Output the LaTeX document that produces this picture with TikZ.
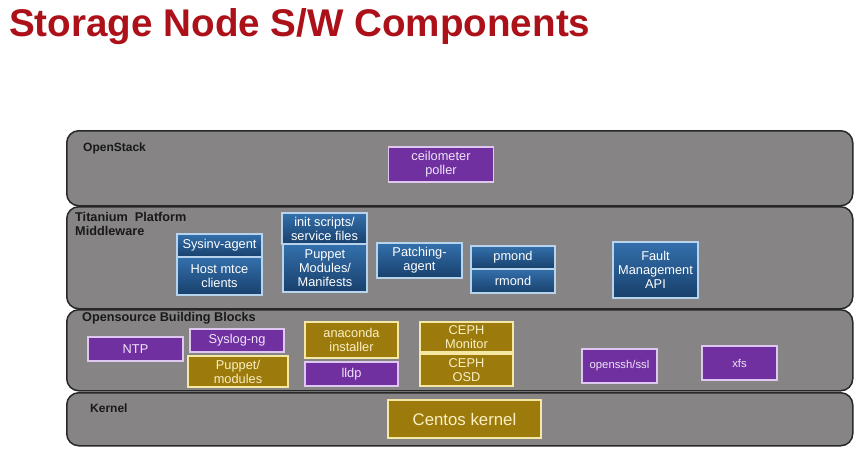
\documentclass[tikz,border=0pt]{standalone}
\usepackage{fontspec}
\setmainfont{Liberation Sans}
\begin{document}
\begin{tikzpicture}[x=1pt,y=-1pt,
  layer/.style={draw={rgb,255:red,40;green,40;blue,40}, line width=1.5pt, rounded corners=12pt,
    fill={rgb,255:red,134;green,132;blue,132}, anchor=north west, inner sep=0pt},
  lbl/.style={anchor=west, font=\fontsize{12.7}{14}\selectfont\bfseries, text={rgb,255:red,25;green,25;blue,25}, inner sep=0pt, align=left},
  box/.style={line width=1.3pt, align=center, inner sep=0pt, font=\fontsize{12.8}{14}\selectfont},
  pbox/.style={box, fill={rgb,255:red,112;green,48;blue,160}, draw={rgb,255:red,222;green,200;blue,240}, text={rgb,255:red,240;green,230;blue,250}},
  gbox/.style={box, fill={rgb,255:red,156;green,122;blue,12}, draw={rgb,255:red,245;green,232;blue,165}, text={rgb,255:red,250;green,240;blue,195}},
  bbox/.style={box, top color={rgb,255:red,52;green,112;blue,172}, bottom color={rgb,255:red,24;green,64;blue,108}, draw={rgb,255:red,184;green,212;blue,236}, text=white},
]
\useasboundingbox (0,0) rectangle (865,458);
\fill[white] (0,0) rectangle (865,458);

\node[anchor=west, inner sep=0pt, font=\fontsize{38.6}{42}\selectfont\bfseries, text={rgb,255:red,172;green,16;blue,24}] (title) at (9,27) {Storage Node S/W Components};

% layers
\node[layer, minimum width=786, minimum height=75] (l1) at (66,130) {};
\node[layer, minimum width=786, minimum height=102] (l2) at (66,206) {};
\node[layer, minimum width=786, minimum height=81] (l3) at (66,309) {};
\node[layer, minimum width=786, minimum height=53] (l4) at (66,392) {};

\node[lbl, font=\fontsize{12}{14}\selectfont\bfseries] (t1) at (83,148) {OpenStack};
\node[lbl] (t2) at (75,224) {Titanium\ \ Platform\\Middleware};
\node[lbl] (t3) at (82,318) {Opensource Building Blocks};
\node[lbl, font=\fontsize{12}{14}\selectfont\bfseries] (t4) at (90,408) {Kernel};

% OpenStack
\node[pbox, minimum width=105, minimum height=35] (ceil) at (441,164.5) {ceilometer\\poller};

% Titanium
\node[bbox, minimum width=85, minimum height=23] (sysinv) at (219.5,245.5) {Sysinv-agent};
\node[bbox, minimum width=85, minimum height=38] (host) at (219.5,276) {Host mtce\\clients};
\node[bbox, minimum width=85, minimum height=31] (init) at (324.5,228.5) {init scripts/\\service files};
\node[bbox, minimum width=84, minimum height=48] (puppetm) at (325,268) {Puppet\\Modules/\\Manifests};
\node[bbox, minimum width=85, minimum height=35] (patch) at (419.5,260.5) {Patching-\\agent};
\node[bbox, minimum width=84, minimum height=23] (pmond) at (513,257.5) {pmond};
\node[bbox, minimum width=84, minimum height=24] (rmond) at (513,281) {rmond};
\node[bbox, minimum width=85, minimum height=56] (fault) at (655.5,270) {Fault\\Management\\API};

% Opensource
\node[pbox, minimum width=95, minimum height=24] (ntp) at (135.5,349) {NTP};
\node[pbox, minimum width=94, minimum height=23] (syslog) at (237,340.5) {Syslog-ng};
\node[gbox, minimum width=100, minimum height=31] (puppet) at (238,371.5) {Puppet/\\modules};
\node[gbox, minimum width=93, minimum height=36] (anaconda) at (351.5,340) {anaconda\\installer};
\node[pbox, minimum width=93, minimum height=24] (lldp) at (351.5,374) {lldp};
\node[gbox, minimum width=93, minimum height=30] (cephmon) at (466.5,337) {CEPH\\Monitor};
\node[gbox, minimum width=93, minimum height=32] (cephosd) at (466.5,370) {CEPH\\OSD};
\node[pbox, minimum width=75, minimum height=34, font=\fontsize{11.3}{13}\selectfont] (ssh) at (619.5,366) {openssh/ssl};
\node[pbox, minimum width=75, minimum height=34, font=\fontsize{11.3}{13}\selectfont] (xfs) at (739.5,363) {xfs};

% Kernel
\node[gbox, minimum width=153, minimum height=38, font=\fontsize{16.8}{18}\selectfont] (centos) at (464.5,419) {Centos kernel};
\end{tikzpicture}
\end{document}
